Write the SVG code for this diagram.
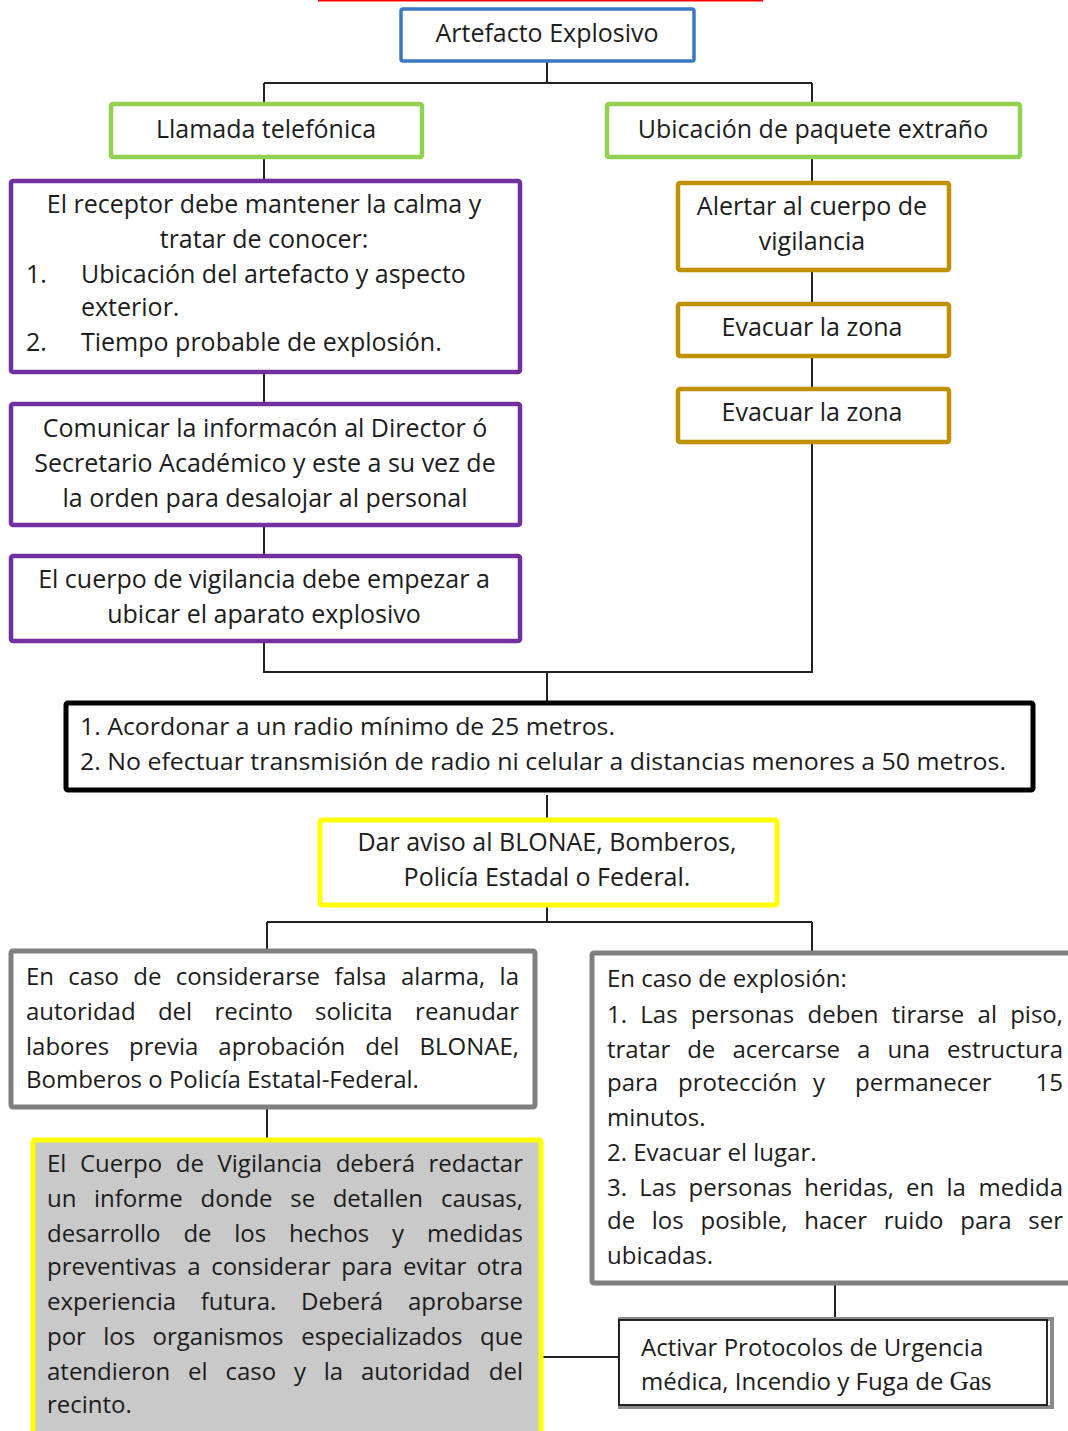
<svg xmlns="http://www.w3.org/2000/svg" width="1068" height="1431" viewBox="0 0 1068 1431">
<style>
text{font-family:"Open Sans","Noto Sans",sans-serif;font-size:25px;fill:#1c1c1c}
.p{font-size:24px}
.c{text-anchor:middle}
.r{text-anchor:end}
.box{fill:#fff}
.blue{stroke:#3b78c3;stroke-width:3.5}
.green{stroke:#92d050;stroke-width:4.5}
.purple{stroke:#7030a0;stroke-width:4.5}
.gold{stroke:#bf9000;stroke-width:4.5}
.black{stroke:#000;stroke-width:5}
.yellow{stroke:#ffff00;stroke-width:5}
.gray{stroke:#7f7f7f;stroke-width:5}
.conn{fill:none;stroke:#222;stroke-width:2}
</style>
<rect x="0" y="0" width="1068" height="1431" fill="#fff"/>
<line x1="318" y1="0.5" x2="763" y2="0.5" stroke="#ff0000" stroke-width="2"/>
<g id="connectors">
<path class="conn" d="M547 61V83M264 83H812M264 83V104M812 83V104"/>
<path class="conn" d="M264 157V181M264 372V404M264 525V556"/>
<path class="conn" d="M812 157V183M812 270V304M812 356V389"/>
<path class="conn" d="M264 641V672H812V442"/>
<path class="conn" d="M547 672V703M547 795V820"/>
<path class="conn" d="M547 905V922M267 922H812M267 922V951M812 922V953"/>
<path class="conn" d="M267 1107V1140M835 1285V1318M541 1357H619"/>
</g>
<g id="n-artefacto"><rect class="box blue" x="401" y="9" width="293" height="52" rx="2"/><text class="c" x="547" y="42">Artefacto Explosivo</text></g>
<g id="n-llamada"><rect class="box green" x="111" y="104" width="311" height="53" rx="2"/><text class="c" x="266" y="138">Llamada telefónica</text></g>
<g id="n-ubicacion"><rect class="box green" x="607" y="104" width="413" height="53" rx="2"/><text class="c" x="813" y="138">Ubicación de paquete extraño</text></g>
<g id="n-receptor"><rect class="box purple" x="11" y="181" width="509" height="191" rx="2"/>
<text class="c" x="264" y="213">El receptor debe mantener la calma y</text>
<text class="c" x="264" y="248">tratar de conocer:</text>
<text x="26" y="283">1.</text><text x="81" y="283">Ubicación del artefacto y aspecto</text>
<text x="81" y="316">exterior.</text>
<text x="26" y="351">2.</text><text x="81" y="351">Tiempo probable de explosión.</text></g>
<g id="n-comunicar"><rect class="box purple" x="11" y="404" width="509" height="121" rx="2"/>
<text class="c" x="265" y="437">Comunicar la informacón al Director ó</text>
<text class="c" x="265" y="472">Secretario Académico y este a su vez de</text>
<text class="c" x="265" y="507">la orden para desalojar al personal</text></g>
<g id="n-cuerpo"><rect class="box purple" x="11" y="556" width="509" height="85" rx="2"/>
<text class="c" x="264" y="588">El cuerpo de vigilancia debe empezar a</text>
<text class="c" x="264" y="623">ubicar el aparato explosivo</text></g>
<g id="n-alertar"><rect class="box gold" x="678" y="183" width="271" height="87" rx="2"/>
<text class="c" x="812" y="215">Alertar al cuerpo de</text>
<text class="c" x="812" y="250">vigilancia</text></g>
<g id="n-evacuar1"><rect class="box gold" x="678" y="304" width="271" height="52" rx="2"/><text class="c" x="812" y="336">Evacuar la zona</text></g>
<g id="n-evacuar2"><rect class="box gold" x="678" y="389" width="271" height="53" rx="2"/><text class="c" x="812" y="421">Evacuar la zona</text></g>
<g id="n-acordonar"><rect class="box black" x="66" y="703" width="967" height="87" rx="2"/>
<text class="p" x="80" y="735" textLength="535" lengthAdjust="spacingAndGlyphs">1. Acordonar a un radio mínimo de 25 metros.</text>
<text class="p" x="80" y="770" textLength="926" lengthAdjust="spacingAndGlyphs">2. No efectuar transmisión de radio ni celular a distancias menores a 50 metros.</text></g>
<g id="n-aviso"><rect class="box yellow" x="320" y="820" width="457" height="85" rx="2"/>
<text class="c" x="547" y="851">Dar aviso al BLONAE, Bomberos,</text>
<text class="c" x="547" y="886">Policía Estadal o Federal.</text></g>
<g id="n-falsa"><rect class="box gray" x="11" y="951" width="524" height="156" rx="2"/>
<text class="p" y="985"><tspan x="26">En</tspan><tspan x="68.3">caso</tspan><tspan x="133.3">de</tspan><tspan x="175.7">considerarse</tspan><tspan x="334.4">falsa</tspan><tspan x="401">alarma,</tspan></text><text class="p r" x="519" y="985">la</text>
<text class="p" y="1020"><tspan x="26">autoridad</tspan><tspan x="157.9">del</tspan><tspan x="214.4">recinto</tspan><tspan x="315.1">solicita</tspan></text><text class="p r" x="519" y="1020">reanudar</text>
<text class="p" y="1055"><tspan x="26">labores</tspan><tspan x="129.1">previa</tspan><tspan x="218.3">aprobación</tspan><tspan x="365.2">del</tspan></text><text class="p r" x="519" y="1055">BLONAE,</text>
<text class="p" x="26" y="1088">Bomberos o Policía Estatal-Federal.</text></g>
<g id="n-explosion"><rect class="box gray" x="592" y="953" width="490" height="330" rx="2"/>
<text class="p" x="607" y="987">En caso de explosión:</text>
<text class="p" y="1023"><tspan x="607">1.</tspan><tspan x="640.3">Las</tspan><tspan x="690.8">personas</tspan><tspan x="807.5">deben</tspan><tspan x="891.8">tirarse</tspan><tspan x="977.6">al</tspan></text><text class="p r" x="1063" y="1023">piso,</text>
<text class="p" y="1058"><tspan x="607">tratar</tspan><tspan x="687.2">de</tspan><tspan x="732.4">acercarse</tspan><tspan x="857.1">a</tspan><tspan x="887.4">una</tspan></text><text class="p r" x="1063" y="1058">estructura</text>
<text class="p" y="1091"><tspan x="607">para</tspan><tspan x="678">protección</tspan><tspan x="813">y</tspan><tspan x="855">permanecer</tspan></text><text class="p r" x="1063" y="1091">15</text>
<text class="p" x="607" y="1126">minutos.</text>
<text class="p" x="607" y="1161">2. Evacuar el lugar.</text>
<text class="p" y="1196"><tspan x="607">3.</tspan><tspan x="639.2">Las</tspan><tspan x="688.6">personas</tspan><tspan x="804.2">heridas,</tspan><tspan x="906.1">en</tspan><tspan x="946.4">la</tspan></text><text class="p r" x="1063" y="1196">medida</text>
<text class="p" y="1229"><tspan x="607">de</tspan><tspan x="651.8">los</tspan><tspan x="700.5">posible,</tspan><tspan x="804.3">hacer</tspan><tspan x="883.8">ruido</tspan><tspan x="960.3">para</tspan></text><text class="p r" x="1063" y="1229">ser</text>
<text class="p" x="607" y="1264">ubicadas.</text></g>
<g id="n-informe"><rect x="33" y="1140" width="508" height="310" fill="#c9c9c9" class="yellow" rx="2"/>
<text class="p" y="1172"><tspan x="47">El</tspan><tspan x="80">Cuerpo</tspan><tspan x="175.8">de</tspan><tspan x="217.5">Vigilancia</tspan><tspan x="335.7">deberá</tspan></text><text class="p r" x="523" y="1172">redactar</text>
<text class="p" y="1207"><tspan x="47">un</tspan><tspan x="94">informe</tspan><tspan x="200.6">donde</tspan><tspan x="290.2">se</tspan><tspan x="332.7">detallen</tspan></text><text class="p r" x="523" y="1207">causas,</text>
<text class="p" y="1242"><tspan x="47">desarrollo</tspan><tspan x="183.4">de</tspan><tspan x="234.2">los</tspan><tspan x="288.9">hechos</tspan><tspan x="391.9">y</tspan></text><text class="p r" x="523" y="1242">medidas</text>
<text class="p" y="1275"><tspan x="47">preventivas</tspan><tspan x="187.3">a</tspan><tspan x="211.2">considerar</tspan><tspan x="341.3">para</tspan><tspan x="403.1">evitar</tspan></text><text class="p r" x="523" y="1275">otra</text>
<text class="p" y="1310"><tspan x="47">experiencia</tspan><tspan x="200.8">futura.</tspan><tspan x="301">Deberá</tspan></text><text class="p r" x="523" y="1310">aprobarse</text>
<text class="p" y="1345"><tspan x="47">por</tspan><tspan x="103.2">los</tspan><tspan x="152.6">organismos</tspan><tspan x="301.2">especializados</tspan></text><text class="p r" x="523" y="1345">que</text>
<text class="p" y="1380"><tspan x="47">atendieron</tspan><tspan x="188.1">el</tspan><tspan x="225.5">caso</tspan><tspan x="294">y</tspan><tspan x="323.7">la</tspan><tspan x="360.9">autoridad</tspan></text><text class="p r" x="523" y="1380">del</text>
<text class="p" x="47" y="1413">recinto.</text></g>
<g id="n-activar"><rect x="620" y="1319" width="432" height="88" fill="none" stroke="#8a8a8a" stroke-width="4"/>
<rect x="619" y="1320" width="428" height="85" fill="#fff" stroke="#111" stroke-width="1.8"/>
<text class="p" x="641" y="1356">Activar Protocolos de Urgencia</text>
<text class="p" x="641" y="1390">médica, Incendio y Fuga de <tspan font-family="'Liberation Serif',serif" font-size="27">Gas</tspan></text></g>
</svg>
